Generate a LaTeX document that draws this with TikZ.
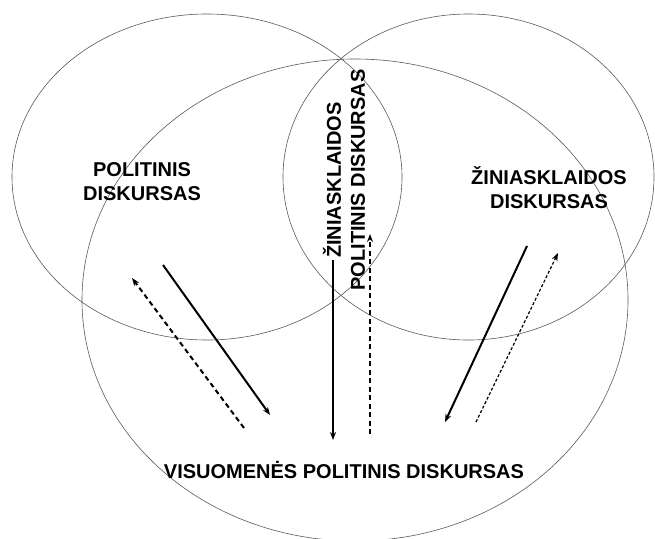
\documentclass[tikz,border=0pt]{standalone}
\usepackage{fontspec}
\setmainfont{Liberation Sans}
\usetikzlibrary{shapes.geometric,arrows.meta}
\begin{document}
\begin{tikzpicture}[x=1pt,y=-1pt,
  ring/.style={draw=black!65, line width=0.6pt, ellipse, inner sep=0pt},
  lbl/.style={font=\fontsize{20}{24}\selectfont\bfseries, align=center, inner sep=0pt},
  tip/.style={-{Stealth[length=8pt,width=6pt]}},
  solidarrow/.style={tip, line width=2pt},
  dasharrow/.style={tip, line width=2pt, dash pattern=on 5pt off 3.5pt},
  dotarrow/.style={tip, line width=1.2pt, dash pattern=on 3pt off 2pt}]
\useasboundingbox (0,0) rectangle (655,538);
\clip (0,0) rectangle (655,538);
\node[ring, minimum width=390pt, minimum height=326pt] (pol) at (207,177) {};
\node[ring, minimum width=371pt, minimum height=326pt] (zin) at (468.5,177) {};
\node[ring, minimum width=546pt, minimum height=482pt] (vis) at (355,300) {};
\node[lbl] (tpol) at (142,182) {POLITINIS\\DISKURSAS};
\node[lbl] (tzin) at (549,188) {ŽINIASKLAIDOS\\DISKURSAS};
\node[lbl, rotate=90] (tmid) at (344,180) {ŽINIASKLAIDOS\\POLITINIS DISKURSAS};
\node[lbl] (tvis) at (344,470) {VISUOMENĖS POLITINIS DISKURSAS};
% arrow end points
\coordinate (a1s) at (163,265); \coordinate (a1e) at (270,415);
\coordinate (a2s) at (244,428); \coordinate (a2e) at (132,278);
\coordinate (a3s) at (333,260); \coordinate (a3e) at (333,440);
\coordinate (a4s) at (370,434); \coordinate (a4e) at (370,234);
\coordinate (a5s) at (527,246); \coordinate (a5e) at (445,422);
\coordinate (a6s) at (476,422); \coordinate (a6e) at (558,253);
\draw[solidarrow] (a1s) -- (a1e);
\draw[dasharrow] (a2s) -- (a2e);
\draw[solidarrow] (a3s) -- (a3e);
\draw[dasharrow] (a4s) -- (a4e);
\draw[solidarrow] (a5s) -- (a5e);
\draw[dotarrow] (a6s) -- (a6e);
\end{tikzpicture}
\end{document}
